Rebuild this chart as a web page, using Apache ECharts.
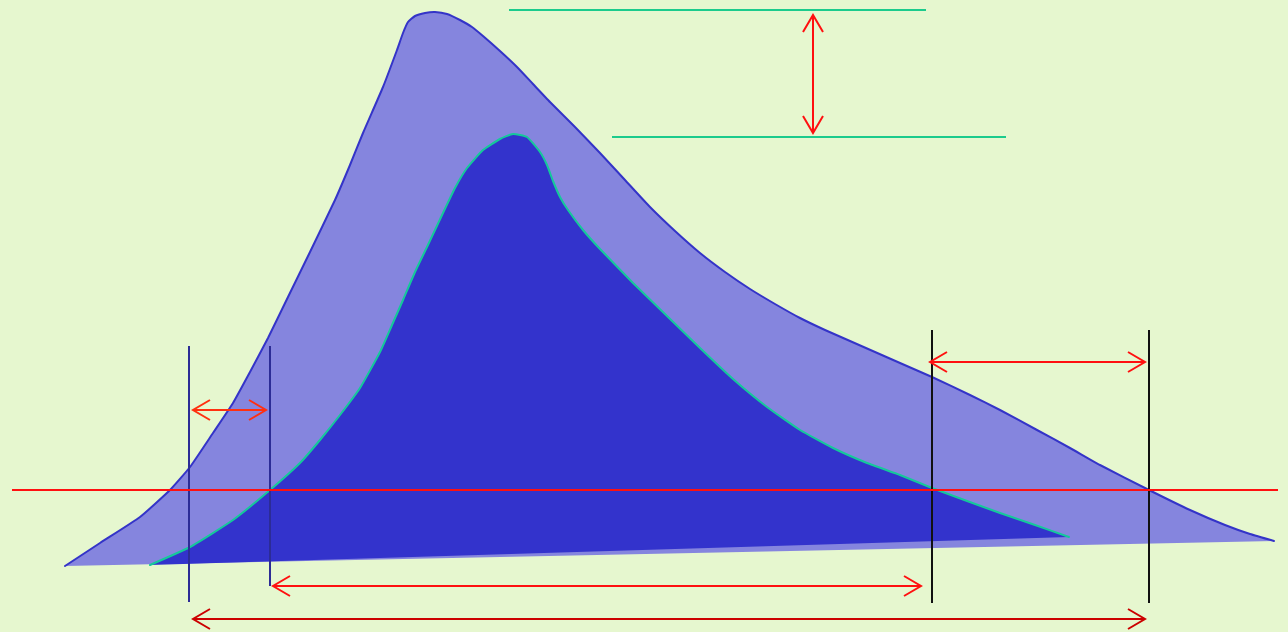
<!DOCTYPE html>
<html>
<head>
<meta charset="utf-8">
<script src="https://cdn.jsdelivr.net/npm/echarts@6/dist/echarts.min.js"></script>
<style>
html,body{margin:0;padding:0;background:#e6f7cf;}
#chart{width:1288px;height:632px;}
</style>
</head>
<body>
<div id="chart"></div>
<script>
// Outer (wider) distribution outline, [x, y] in diagram units
const outerCurve = [
  [65,566],[100,543],[140,517],[170,490],[190,467],[213,433],[233,403],[250,372],[268,338],
  [288,297],[310,252],[335,200],[350,165],[363,133],[383,87],[397,50],[403,33],[408,22],
  [415,16],[425,13],[435,12],[447,14],[460,20],[472,27],[483,36],[500,51],[517,67],[533,84],
  [550,102],[575,127],[600,153],[625,180],[650,207],[675,231],[700,253],[725,272],[750,289],
  [775,304],[800,318],[825,330],[850,341],[875,352],[900,363],[932,377],[970,395],[1000,410],
  [1037,430],[1070,448],[1100,465],[1149,490],[1190,510],[1225,525],[1250,534],[1274,541]
];
// Inner (narrower) distribution outline
const innerCurve = [
  [150,565],[190,547],[233,520],[270,490],[300,463],[320,440],[340,415],[360,388],[380,352],
  [392,325],[403,300],[415,272],[427,247],[443,213],[455,188],[467,168],[483,150],[500,139],
  [513,134],[527,137],[540,152],[547,165],[553,181],[560,197],[568,210],[583,230],[600,249],
  [633,283],[667,316],[700,348],[733,379],[767,407],[800,430],[833,448],[867,463],[900,475],
  [932,488],[967,501],[1000,513],[1035,525],[1069,537]
];
// Segments [x1, y1, x2, y2]
const redLines = [[12,490,1278,490]];
const greenLines = [[509,10,926,10],[612,137,1006,137]];
const navyLines = [[189,346,189,602],[270,346,270,586]];
const blackLines = [[932,330,932,603],[1149,330,1149,603]];
// Double-headed arrows [x1, y1, x2, y2]
const redArrows = [[813,15,813,133],[930,362,1145,362],[273,586,921,586]];
const orangeArrows = [[193,410,266,410]];
const darkRedArrows = [[193,619,1145,619]];

const chart = echarts.init(document.getElementById('chart'), null, {renderer:'canvas'});

function shapeSeries(points, fill, stroke) {
  return {
    type: 'custom',
    coordinateSystem: 'cartesian2d',
    silent: true,
    data: points,
    renderItem: function (params, api) {
      if (params.dataIndex !== 0) return;
      const pts = points.map(p => api.coord(p));
      return {
        type: 'group',
        children: [
          {type: 'polyline', shape: {points: pts, smooth: 0.15}, style: {fill: fill, stroke: null}},
          {type: 'polyline', shape: {points: pts, smooth: 0.15}, style: {stroke: stroke, lineWidth: 2, fill: null, lineJoin: 'round', lineCap: 'round'}}
        ]
      };
    }
  };
}

function segSeries(segs, color, width) {
  return {
    type: 'custom',
    coordinateSystem: 'cartesian2d',
    silent: true,
    data: segs,
    renderItem: function (params, api) {
      const a = api.coord([api.value(0), api.value(1)]);
      const b = api.coord([api.value(2), api.value(3)]);
      return {type: 'line', shape: {x1: a[0], y1: a[1], x2: b[0], y2: b[1]}, style: {stroke: color, lineWidth: width}};
    }
  };
}

function arrowSeries(segs, color, width) {
  return {
    type: 'custom',
    coordinateSystem: 'cartesian2d',
    silent: true,
    data: segs,
    renderItem: function (params, api) {
      const a = api.coord([api.value(0), api.value(1)]);
      const b = api.coord([api.value(2), api.value(3)]);
      const dx = b[0] - a[0], dy = b[1] - a[1];
      const len = Math.sqrt(dx * dx + dy * dy);
      const ux = dx / len, uy = dy / len;
      const px = -uy, py = ux;
      const L = 17, W = 10;
      const st = {stroke: color, lineWidth: width, fill: null, lineCap: 'butt', lineJoin: 'miter'};
      return {
        type: 'group',
        children: [
          {type: 'line', shape: {x1: a[0], y1: a[1], x2: b[0], y2: b[1]}, style: st},
          {type: 'polyline', shape: {points: [[a[0] + ux * L + px * W, a[1] + uy * L + py * W], a, [a[0] + ux * L - px * W, a[1] + uy * L - py * W]]}, style: st},
          {type: 'polyline', shape: {points: [[b[0] - ux * L + px * W, b[1] - uy * L + py * W], b, [b[0] - ux * L - px * W, b[1] - uy * L - py * W]]}, style: st}
        ]
      };
    }
  };
}

chart.setOption({
  backgroundColor: '#e6f7cf',
  animation: false,
  grid: {left: 0, right: 0, top: 0, bottom: 0},
  xAxis: {type: 'value', min: 0, max: 1288, show: false},
  yAxis: {type: 'value', min: 0, max: 632, inverse: true, show: false},
  series: [
    shapeSeries(outerCurve, '#8585de', '#3434c8'),
    shapeSeries(innerCurve, '#3333cc', '#14c99a'),
    segSeries(navyLines, '#2c2c96', 2),
    segSeries(blackLines, '#111111', 2),
    segSeries(greenLines, '#1ccb8c', 2),
    segSeries(redLines, '#ff1010', 2),
    arrowSeries(redArrows, '#ff1010', 2),
    arrowSeries(orangeArrows, '#ff3010', 2),
    arrowSeries(darkRedArrows, '#cc0000', 2)
  ]
});
</script>
</body>
</html>
